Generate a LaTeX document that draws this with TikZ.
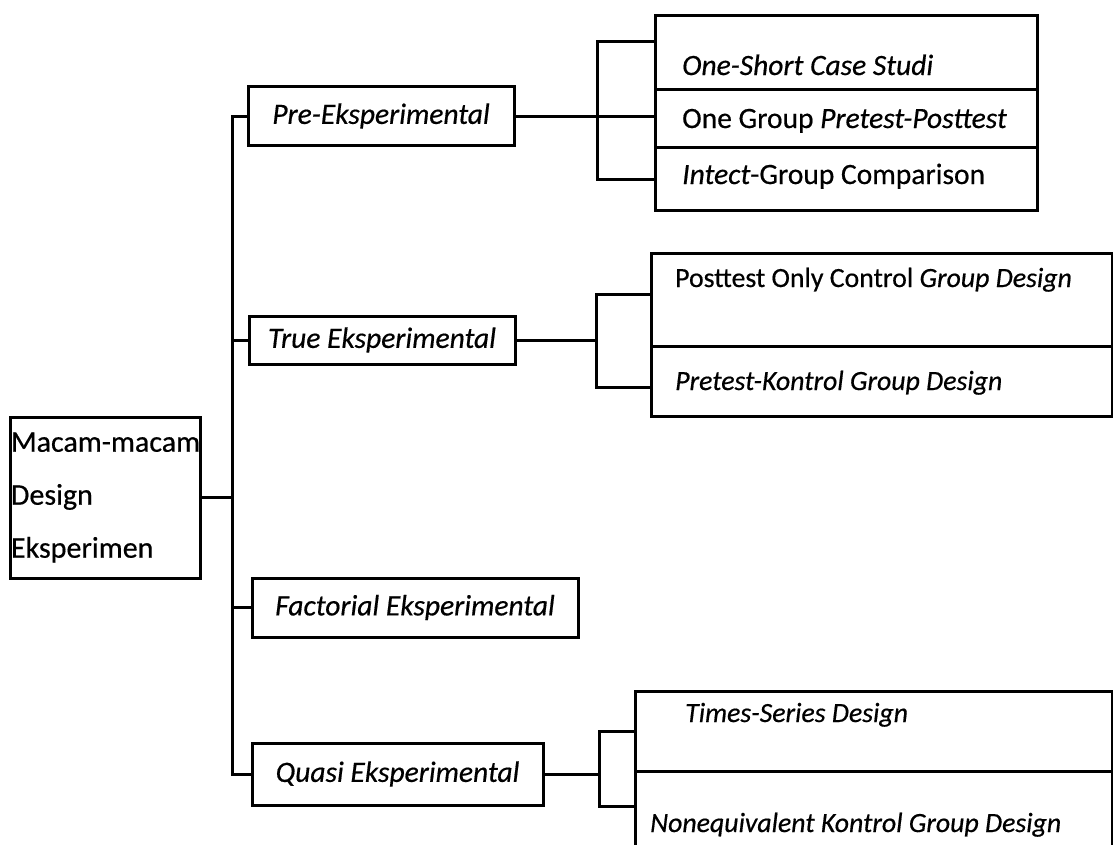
\documentclass[tikz,border=0pt]{standalone}
\usepackage{fontspec}
\setmainfont{Carlito}[FakeBold=0.5]
\usepackage{tikz}

\newcommand\diafont{\fontsize{29.5}{35}\selectfont}
\newcommand\subfont{\fontsize{27.8}{33}\selectfont}

\tikzset{
  box/.style={draw,line width=3pt,inner sep=0pt,font=\diafont\itshape},
  cell/.style={draw,line width=3pt,anchor=north west,inner sep=0pt},
  txt/.style={anchor=base west,inner sep=0pt,font=\diafont},
  subtxt/.style={txt,font=\subfont},
  link/.style={line width=3pt,line cap=rect}
}

\begin{document}
\begin{tikzpicture}[x=1pt,y=-1pt]
\clip (0,0) rectangle (1113,844);

% main box
\node[draw,line width=3pt,minimum width=190pt,minimum height=161pt,
      text width=188pt,inner xsep=1pt,align=left,
      font=\fontsize{30}{53}\selectfont] (main) at (105,497.5)
      {\mbox{Macam-macam}\\Design\\Eksperimen};

% second level
\node[box,minimum width=266pt,minimum height=59pt] (pre) at (381,116) {Pre-Eksperimental};
\node[box,minimum width=266pt,minimum height=48pt] (true) at (382,340) {True Eksperimental};
\node[box,minimum width=326pt,minimum height=59pt] (fact) at (415,607.5) {Factorial Eksperimental};
\node[box,minimum width=291pt,minimum height=62pt] (quasi) at (397.5,774) {Quasi Eksperimental};

% trunk
\coordinate (trunk) at (232,0);
\draw[link] (main.east) -- (main.east -| trunk);
\draw[link] (pre.west -| trunk) -- (quasi.west -| trunk);
\foreach \n in {pre,true,fact,quasi}{\draw[link] (\n.west) -- (\n.west -| trunk);};

% pre-eksperimental
\node[cell,minimum width=382pt,minimum height=74pt] (one1) at (654,14) {};
\node[cell,minimum width=382pt,minimum height=58pt] (one2) at (654,88) {};
\node[cell,minimum width=382pt,minimum height=63pt] (one3) at (654,146) {};
\node[txt] (one1t) at (682,75) {\itshape One-Short Case Studi};
\node[txt] (one2t) at (682,128) {One Group \textit{Pretest-Posttest}};
\node[txt] (one3t) at (682,184) {\textit{Intect}-Group Comparison};
\coordinate (prebr) at (597,0);
\coordinate (pb1) at ([yshift=11pt]one1.west);
\draw[link] (pre.east) -- (pre.east -| one2.west);
\draw[link] (pb1) -| (prebr |- one3.west) -- (one3.west);

% true eksperimental
\node[cell,minimum width=461pt,minimum height=93pt] (tp1) at (650,252) {};
\node[cell,minimum width=461pt,minimum height=70pt] (tp2) at (650,345) {};
\node[subtxt] (tp1t) at (675,287) {Posttest Only Control \textit{Group Design}};
\node[subtxt] (tp2t) at (675,390) {\itshape Pretest-Kontrol Group Design};
\coordinate (truebr) at (596,0);
\coordinate (tb1) at ([yshift=6pt]tp1.west);
\coordinate (tb2) at ([yshift=-6pt]tp2.west);
\draw[link] (true.east) -- (true.east -| truebr);
\draw[link] (tb1) -| (truebr |- tb2) -- (tb2);

% quasi eksperimental
\node[cell,minimum width=477pt,minimum height=80pt] (q1) at (634,690) {};
\node[cell,minimum width=477pt,minimum height=92pt] (q2) at (634,770) {};
\node[subtxt] (q1t) at (685,722) {\itshape Times-Series Design};
\node[subtxt] (q2t) at (650,832) {\itshape Nonequivalent Kontrol Group Design};
\coordinate (quasibr) at (599,0);
\coordinate (qb2) at ([yshift=11pt]q2.west);
\draw[link] (quasi.east) -- (quasi.east -| quasibr);
\draw[link] (q1.west) -| (quasibr |- qb2) -- (qb2);
\end{tikzpicture}
\end{document}
